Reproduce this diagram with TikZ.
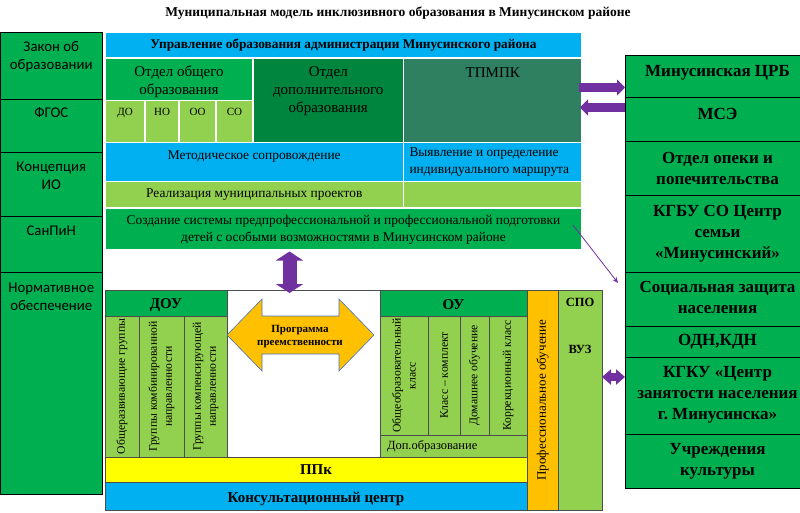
\documentclass[tikz,border=0pt]{standalone}
\usepackage{fontspec}
\setmainfont{Liberation Serif}
\newfontfamily\calibfont{Carlito}
\usetikzlibrary{positioning, fit, calc, arrows.meta}
\definecolor{cGreen}{RGB}{0,176,80}
\definecolor{cLight}{RGB}{146,208,80}
\definecolor{cBlue}{RGB}{0,176,240}
\definecolor{cDark}{RGB}{0,133,62}
\definecolor{cTeal}{RGB}{46,128,96}
\definecolor{cYellow}{RGB}{255,255,0}
\definecolor{cOrange}{RGB}{255,192,0}
\definecolor{cPurple}{RGB}{112,48,160}
\definecolor{cEdge}{RGB}{68,114,196}

\begin{document}
\begin{tikzpicture}[x=1pt, y=-1pt, inner sep=0pt, outer sep=0pt,
    cell/.style={draw=black!70, line width=0.7pt},
    wcell/.style={draw=white, line width=1.5pt},
    ocell/.style={draw=black, line width=0.9pt, fill=cGreen},
    side/.style={font=\calibfont\fontsize{14.8}{18}\selectfont, align=center},
    org/.style={font=\bfseries\fontsize{17}{21}\selectfont, align=center},
    txt/.style={font=\fontsize{13.4}{17}\selectfont, align=center},
    big/.style={font=\fontsize{15}{18}\selectfont, align=center},
    small/.style={font=\fontsize{11}{13}\selectfont},
    head/.style={font=\bfseries\fontsize{15}{18}\selectfont},
    vtxt/.style={font=\fontsize{11.7}{15}\selectfont, align=center, rotate=90},
    parrow/.style={cPurple, line width=9pt, -{Triangle[width=16pt,length=8pt]}},
    pboth/.style={cPurple, {Triangle[width=#1,length=9pt]}-{Triangle[width=#1,length=9pt]}},
    thinarrow/.style={cPurple, line width=0.8pt, -{Stealth[length=6pt,width=5pt]}}]

    \fill[white] (0,0) rectangle (800,513);
    \useasboundingbox (0,0) rectangle (800,513);

    % Title
    \node[font=\bfseries\fontsize{13.5}{16}\selectfont] (title) at (398,13)
        {Муниципальная модель инклюзивного образования в Минусинском районе};

    % Normative base (left column)
    \node[ocell, fit={(0.5,32) (102,99)}] (zakon) {};
    \node[side, below=9pt of zakon.north] (zakont) {Закон об\\образовании};
    \node[ocell, fit={(0.5,99) (102,152)}] (fgos) {};
    \node[side, below=8.5pt of fgos.north] (fgost) {ФГОС};
    \node[ocell, fit={(0.5,152) (102,216)}] (konc) {};
    \node[side, below=10pt of konc.north] (konct) {Концепция\\ИО};
    \node[ocell, fit={(0.5,216) (102,272)}] (sanpin) {};
    \node[side, below=9.5pt of sanpin.north] (sanpint) {СанПиН};
    \node[ocell, fit={(0.5,272) (102,494)}] (norm) {};
    \node[side, below=11pt of norm.north] (normt) {Нормативное\\обеспечение};

    % Education department (top block)
    \node[wcell, fill=cBlue, fit={(105,32) (582,58)}] (upr) {};
    \node[font=\bfseries\fontsize{13.3}{16}\selectfont] (uprt) at (upr)
        {Управление образования администрации Минусинского района};
    \node[wcell, fill=cGreen, fit={(105,58) (253,100.5)}] (oo) {};
    \node[big] (oot) at ([yshift=-2.5pt]oo) {Отдел общего\\образования};
    \node[wcell, fill=cLight, fit={(105,100.5) (145,142.5)}] (sdo) {};
    \node[small, below=8pt of sdo.north] (sdot) {ДО};
    \node[wcell, fill=cLight, fit={(145,100.5) (179,142.5)}] (sno) {};
    \node[small, below=8pt of sno.north] (snot) {НО};
    \node[wcell, fill=cLight, fit={(179,100.5) (216,142.5)}] (soo) {};
    \node[small, below=8pt of soo.north] (soot) {ОО};
    \node[wcell, fill=cLight, fit={(216,100.5) (253,142.5)}] (sso) {};
    \node[small, below=8pt of sso.north] (ssot) {СО};
    \node[wcell, fill=cDark, fit={(253,58) (403.5,142.5)}] (dop) {};
    \node[big, below=9pt of dop.north] (dopt) {Отдел\\дополнительного\\образования};
    \node[wcell, fill=cTeal, fit={(403.5,58) (582,142.5)}] (tpmpk) {};
    \node[big, below=9.5pt of tpmpk.north] (tpmpkt) {ТПМПК};
    \node[wcell, fill=cBlue, fit={(105,142.5) (403.5,181.5)}] (metod) {};
    \node[txt, below=8pt of metod.north] (metodt) {Методическое сопровождение};
    \node[wcell, fill=cBlue, fit={(403.5,142.5) (582,181.5)}] (vyyav) {};
    \node[txt, align=left, anchor=west] (vyyavt) at ([xshift=6pt]vyyav.west)
        {Выявление и определение\\индивидуального маршрута};
    \node[wcell, fill=cLight, fit={(105,181.5) (403.5,208)}] (real) {};
    \node[txt] (realt) at (real) {Реализация муниципальных проектов};
    \node[wcell, fill=cLight, fit={(403.5,181.5) (582,208)}] (realr) {};
    \node[wcell, fill=cGreen, fit={(105,208) (582,249.5)}] (sozd) {};
    \node[txt] (sozdt) at ([yshift=-1pt]sozd)
        {Создание системы предпрофессиональной и профессиональной подготовки\\детей с особыми возможностями в Минусинском районе};

    % Institutions (lower block)
    \node[cell, fill=cGreen, fit={(105,290) (227,316)}] (dou) {};
    \node[head] (dout) at ([yshift=-2pt]dou) {ДОУ};
    \node[cell, fill=cLight, fit={(105,316) (139,457)}] (dou1) {};
    \node[cell, fill=cLight, fit={(139,316) (184,457)}] (dou2) {};
    \node[cell, fill=cLight, fit={(184,316) (227,457)}] (dou3) {};
    \node[vtxt] (dou1t) at (dou1) {Общеразвивающие группы};
    \node[vtxt] (dou2t) at (dou2) {Группы комбинированной\\направленности};
    \node[vtxt] (dou3t) at (dou3) {Группы компенсирующей\\направленности};
    \node[cell, fill=white, fit={(227,290) (380,457)}] (prog) {};
    \node[cell, fill=cGreen, fit={(380,290) (527,316)}] (ou) {};
    \node[head] (out) at ([yshift=-2pt]ou) {ОУ};
    \node[cell, fill=cLight, fit={(380,316) (428,435)}] (ou1) {};
    \node[cell, fill=cLight, fit={(428,316) (460,435)}] (ou2) {};
    \node[cell, fill=cLight, fit={(460,316) (489,435)}] (ou3) {};
    \node[cell, fill=cLight, fit={(489,316) (527,435)}] (ou4) {};
    \node[vtxt] (ou1t) at (ou1) {Общеобразовательный\\класс};
    \node[vtxt] (ou2t) at (ou2) {Класс – комплект};
    \node[vtxt] (ou3t) at (ou3) {Домашнее обучение};
    \node[vtxt] (ou4t) at (ou4) {Коррекционный класс};
    \node[cell, fill=cLight, fit={(380,435) (527,457)}] (dopobr) {};
    \node[font=\fontsize{12.5}{15}\selectfont, anchor=west] (dopobrt) at ([xshift=7pt]dopobr.west) {Доп.образование};
    \node[cell, fill=cYellow, fit={(105,457) (527,482)}] (ppk) {};
    \node[head] (ppkt) at (ppk) {ППк};
    \node[cell, fill=cBlue, fit={(105,482) (527,510)}] (konsult) {};
    \node[head] (konsultt) at ([yshift=-2.5pt]konsult) {Консультационный центр};
    \node[cell, fill=cOrange, fit={(527,290) (558,510)}] (prof) {};
    \node[vtxt, font=\fontsize{13}{15}\selectfont] (proft) at (prof) {Профессиональное обучение};
    \node[cell, fill=cLight, fit={(558,290) (602,510)}] (spo) {};
    \node[font=\bfseries\fontsize{12.5}{15}\selectfont, below=8pt of spo.north] (spot) {СПО};
    \node[font=\bfseries\fontsize{12.5}{15}\selectfont, below=55pt of spo.north] (vuzt) {ВУЗ};

    % Continuity programme
    \filldraw[fill=cOrange, draw=cEdge, line width=0.6pt] (227,335) -- (262,299) -- (262,316) -- (339,316)
        -- (339,299) -- (374,335) -- (339,371) -- (339,354) -- (262,354) -- (262,371) -- cycle;
    \node[font=\bfseries\fontsize{11}{13}\selectfont, align=center] (progt) at (300,337) {Программа\\преемственности};

    % Partner organisations (right column)
    \node[ocell, fit={(625,55) (810,97)}] (crb) {};
    \node[org, below=10pt of crb.north] (crbt) {Минусинская ЦРБ};
    \node[ocell, fit={(625,97) (810,141)}] (mse) {};
    \node[org, below=11pt of mse.north] (mset) {МСЭ};
    \node[ocell, fit={(625,141) (810,195)}] (opeka) {};
    \node[org] (opekat) at (opeka) {Отдел опеки и\\попечительства};
    \node[ocell, fit={(625,195) (810,272)}] (kgbu) {};
    \node[org] (kgbut) at (kgbu) {КГБУ СО Центр\\семьи\\«Минусинский»};
    \node[ocell, fit={(625,272) (810,326)}] (soczash) {};
    \node[org] (soczasht) at ([yshift=2pt]soczash) {Социальная защита\\населения};
    \node[ocell, fit={(625,326) (810,357)}] (odn) {};
    \node[org] (odnt) at (odn) {ОДН,КДН};
    \node[ocell, fit={(625,357) (810,434)}] (kgku) {};
    \node[org] (kgkut) at ([yshift=1pt]kgku) {КГКУ «Центр\\занятости населения\\г.\ Минусинска»};
    \node[ocell, fit={(625,434) (810,488)}] (kult) {};
    \node[org] (kultt) at (kult) {Учреждения\\культуры};

    % Links
    \coordinate (a1) at (0,87.5);
    \coordinate (a2) at (0,107.5);
    \coordinate (a3) at (0,377);
    \coordinate (vx) at (289.5,0);
    \draw[parrow] ([xshift=-3pt]tpmpk.east |- a1) -- (crb.west |- a1);
    \draw[parrow] (mse.west |- a2) -- ([xshift=-2pt]tpmpk.east |- a2);
    \draw[pboth=15pt, line width=8pt] (spo.east |- a3) -- (kgku.west |- a3);
    \draw[pboth=27pt, line width=14pt] ([yshift=-2pt]sozd.south -| vx) -- ([yshift=-3pt]prog.north -| vx);
    \draw[thinarrow] ([xshift=-9pt,yshift=-17pt]sozd.north east) -- ([xshift=-7pt,yshift=-11pt]soczash.north west);

\end{tikzpicture}
\end{document}
